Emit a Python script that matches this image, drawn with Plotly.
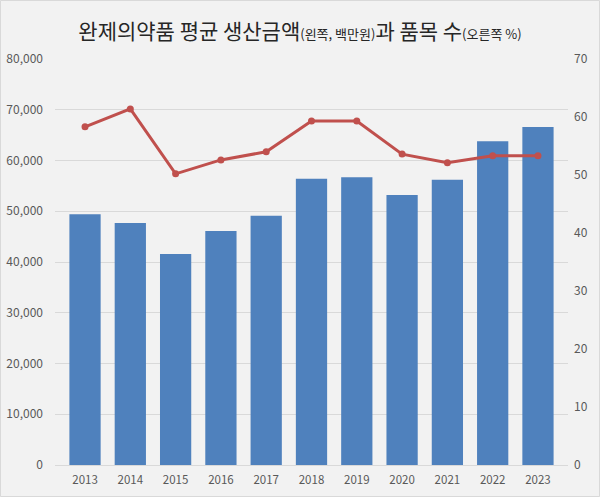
import plotly.graph_objects as go

years = ["2013", "2014", "2015", "2016", "2017", "2018", "2019", "2020", "2021", "2022", "2023"]
avg_production = [49400, 47700, 41600, 46100, 49100, 56400, 56700, 53200, 56200, 63800, 66600]
item_share = [58.3, 61.4, 50.2, 52.6, 54.0, 59.3, 59.3, 53.6, 52.1, 53.3, 53.3]

W, H = 600, 497
ML, MR, MT, MB = 55, 32, 59, 32
pw, ph = W - ML - MR, H - MT - MB

fig = go.Figure()
fig.add_trace(go.Bar(
    x=years, y=avg_production, marker=dict(color="#4f81bd", line=dict(width=0)),
    yaxis="y", showlegend=False, hoverinfo="x+y"))
fig.add_trace(go.Scatter(
    x=years, y=item_share, mode="lines+markers", yaxis="y2",
    line=dict(color="#c0504d", width=3), marker=dict(color="#c0504d", size=7),
    showlegend=False))

font = "Noto Sans CJK KR, Malgun Gothic, sans-serif"
title = ('<span style="font-size:21px">완제의약품 평균 생산금액</span>'
         '<span style="font-size:13px">(왼쪽, 백만원)</span>'
         '<span style="font-size:21px">과 품목 수</span>'
         '<span style="font-size:13px">(오른쪽 %)</span>')

fig.update_layout(
    width=W, height=H,
    margin=dict(l=ML, r=MR, t=MT, b=MB, autoexpand=False),
    paper_bgcolor="#f2f2f2", plot_bgcolor="#f2f2f2",
    font=dict(family=font, size=12, color="#595959"),
    bargap=0.31,
    title=dict(text=title, x=0.5, xanchor="center", y=1 - 33 / H, yanchor="middle",
               font=dict(family=font, color="#262626")),
    xaxis=dict(type="category", showgrid=False, ticks="", showline=True,
               linecolor="#d9d9d9", linewidth=1, tickfont=dict(size=11.5),
               ticklabelstandoff=4, automargin=False),
    yaxis=dict(range=[0, 80000], dtick=10000, tickformat=",", showgrid=True,
               gridcolor="#d9d9d9", gridwidth=1, zeroline=False, ticks="",
               tickfont=dict(size=12), ticklabelstandoff=11, automargin=False),
    yaxis2=dict(range=[0, 70], dtick=10, overlaying="y", side="right",
                showgrid=False, zeroline=False, ticks="", tickfont=dict(size=12),
                ticklabelstandoff=5, automargin=False),
    shapes=[dict(type="rect", xref="paper", yref="paper",
                 x0=-ML / pw + 0.5 / pw, x1=1 + MR / pw - 0.5 / pw,
                 y0=-MB / ph + 0.5 / ph, y1=1 + MT / ph - 0.5 / ph,
                 line=dict(color="#d9d9d9", width=1), layer="below")],
)

fig.write_html("out.html")
